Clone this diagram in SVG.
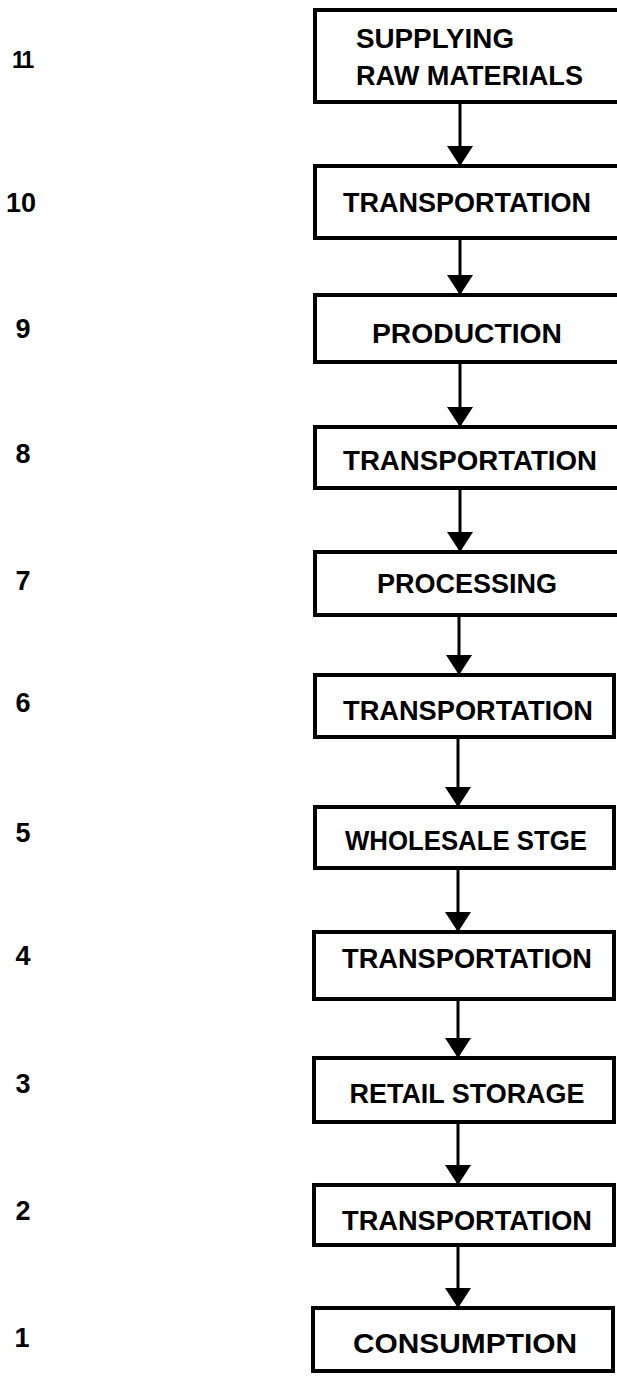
<svg xmlns="http://www.w3.org/2000/svg" width="617" height="1376" viewBox="0 0 617 1376">
  <defs>
    <!-- filled arrowhead, tip at the end of the line -->
    <marker id="head" markerUnits="userSpaceOnUse" markerWidth="20" markerHeight="26" viewBox="0 0 20 26" refX="20" refY="13" orient="auto">
      <path d="M0,0 L20,13 L0,26 Z" fill="#000"/>
    </marker>
  </defs>
  <style>
    .box { fill: #fff; stroke: #000; stroke-width: 4; }
    .lbl { font-family: "Liberation Sans", Arial, sans-serif; font-weight: bold; font-size: 27px; fill: #000; text-anchor: middle; }
    .left { text-anchor: start; }
    .num { font-family: "Liberation Sans", Arial, sans-serif; font-weight: bold; font-size: 27px; fill: #000; text-anchor: middle; }
    .link { stroke: #000; stroke-width: 3; fill: none; }
  </style>
  <rect width="617" height="1376" fill="#fff"/>

  <!-- stage numbers -->
  <g id="stage-numbers">
    <text class="num" x="12" y="68" style="font-size:23px;letter-spacing:-2px;text-anchor:start">11</text>
    <text class="num" x="21" y="212">10</text>
    <text class="num" x="23" y="338">9</text>
    <text class="num" x="23" y="463">8</text>
    <text class="num" x="23" y="590">7</text>
    <text class="num" x="23" y="712">6</text>
    <text class="num" x="23" y="842">5</text>
    <text class="num" x="23" y="965">4</text>
    <text class="num" x="23" y="1093">3</text>
    <text class="num" x="23" y="1220">2</text>
    <text class="num" x="22" y="1347">1</text>
  </g>

  <!-- connectors -->
  <g id="connectors">
    <line class="link" x1="460" y1="102" x2="460" y2="166" marker-end="url(#head)"/>
    <line class="link" x1="460" y1="238" x2="460" y2="295" marker-end="url(#head)"/>
    <line class="link" x1="460" y1="362" x2="460" y2="427" marker-end="url(#head)"/>
    <line class="link" x1="460" y1="488" x2="460" y2="552" marker-end="url(#head)"/>
    <line class="link" x1="459" y1="615" x2="459" y2="675" marker-end="url(#head)"/>
    <line class="link" x1="458" y1="737" x2="458" y2="807" marker-end="url(#head)"/>
    <line class="link" x1="458" y1="868" x2="458" y2="932" marker-end="url(#head)"/>
    <line class="link" x1="458" y1="999" x2="458" y2="1058" marker-end="url(#head)"/>
    <line class="link" x1="458" y1="1122" x2="458" y2="1185" marker-end="url(#head)"/>
    <line class="link" x1="458" y1="1245" x2="458" y2="1308" marker-end="url(#head)"/>
  </g>

  <!-- stages -->
  <g id="node-raw-materials">
    <rect class="box" x="315" y="10" width="310" height="92"/>
    <text class="lbl left" x="356" y="48" textLength="158" lengthAdjust="spacingAndGlyphs">SUPPLYING</text>
    <text class="lbl left" x="356" y="85" textLength="227" lengthAdjust="spacingAndGlyphs">RAW MATERIALS</text>
  </g>
  <g id="node-transport-10">
    <rect class="box" x="315" y="166" width="310" height="72"/>
    <text class="lbl" x="467" y="212" textLength="248" lengthAdjust="spacingAndGlyphs">TRANSPORTATION</text>
  </g>
  <g id="node-production">
    <rect class="box" x="315" y="295" width="310" height="67"/>
    <text class="lbl" x="467" y="343" textLength="190" lengthAdjust="spacingAndGlyphs">PRODUCTION</text>
  </g>
  <g id="node-transport-8">
    <rect class="box" x="315" y="427" width="310" height="61"/>
    <text class="lbl" x="470" y="470" textLength="254" lengthAdjust="spacingAndGlyphs">TRANSPORTATION</text>
  </g>
  <g id="node-processing">
    <rect class="box" x="315" y="552" width="310" height="63"/>
    <text class="lbl" x="467" y="593" textLength="180" lengthAdjust="spacingAndGlyphs">PROCESSING</text>
  </g>
  <g id="node-transport-6">
    <rect class="box" x="315" y="675" width="299" height="62"/>
    <text class="lbl" x="468" y="720" textLength="250" lengthAdjust="spacingAndGlyphs">TRANSPORTATION</text>
  </g>
  <g id="node-wholesale">
    <rect class="box" x="315" y="807" width="299" height="61"/>
    <text class="lbl" x="466" y="850" textLength="242" lengthAdjust="spacingAndGlyphs">WHOLESALE STGE</text>
  </g>
  <g id="node-transport-4">
    <rect class="box" x="314" y="932" width="300" height="67"/>
    <text class="lbl" x="467" y="968" textLength="250" lengthAdjust="spacingAndGlyphs">TRANSPORTATION</text>
  </g>
  <g id="node-retail">
    <rect class="box" x="314" y="1058" width="300" height="64"/>
    <text class="lbl" x="467" y="1103" textLength="235" lengthAdjust="spacingAndGlyphs">RETAIL STORAGE</text>
  </g>
  <g id="node-transport-2">
    <rect class="box" x="314" y="1185" width="300" height="60"/>
    <text class="lbl" x="467" y="1230" textLength="250" lengthAdjust="spacingAndGlyphs">TRANSPORTATION</text>
  </g>
  <g id="node-consumption">
    <rect class="box" x="313" y="1308" width="300" height="63"/>
    <text class="lbl" x="465" y="1353" textLength="224" lengthAdjust="spacingAndGlyphs">CONSUMPTION</text>
  </g>
</svg>
